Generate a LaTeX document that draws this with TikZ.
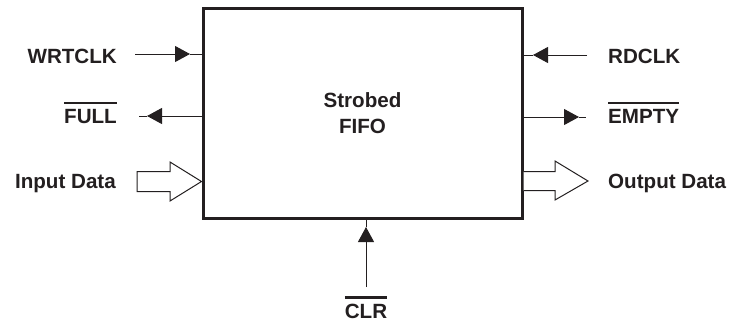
\documentclass[tikz,border=0pt]{standalone}
\usepackage{fontspec}
\setmainfont{Liberation Sans}
\usetikzlibrary{arrows.meta}
\definecolor{ink}{HTML}{231F20}
\newcommand\ovl[1]{\vbox{\hrule height 2.5pt\kern 5pt\hbox{#1}}}
\begin{document}
\begin{tikzpicture}[x=1pt,y=-1pt,
  lbl/.style={inner sep=0pt, text=ink, font=\fontsize{20.6}{26}\selectfont\bfseries},
  wire/.style={draw=ink, line width=1pt},
  sig/.style={wire, -{Triangle[length=15pt,width=16pt]}},
  hollow/.style={draw=ink, line width=1pt, fill=white, line join=miter}]
\useasboundingbox (0,0) rectangle (730,322);
% main box
\node[draw=ink, line width=3pt, minimum width=319pt, minimum height=210pt, inner sep=0pt,
      lbl, align=center] (fifo) at (362.5,113) {Strobed\\FIFO};
% labels
\node[lbl, anchor=base east] (wrt) at (117,63.5) {WRTCLK};
\node[lbl, anchor=base east] (full) at (117,123.5) {\ovl{FULL}};
\node[lbl, anchor=base east] (ind) at (116,188.5) {Input Data};
\node[lbl, anchor=base west] (rd) at (608,63.5) {RDCLK};
\node[lbl, anchor=base west] (empty) at (608,123.5) {\ovl{EMPTY}};
\node[lbl, anchor=base west] (outd) at (608,188.5) {Output Data};
\node[lbl, anchor=base] (clr) at (366,318) {\ovl{CLR}};
% free ends and tips
\coordinate (wrtA) at (135,54);   \coordinate (wrtT) at (190,54);
\coordinate (fullA) at (139,116); \coordinate (fullT) at (147,116);
\coordinate (rdA) at (587,55);    \coordinate (rdT) at (533,55);
\coordinate (emA) at (586,117);   \coordinate (emT) at (579,117);
\coordinate (clrA) at (366,287);  \coordinate (clrT) at (366,227);
% WRTCLK
\draw[sig] (wrtA) -- (wrtT);
\draw[wire] (wrtT) -- (fifo.west |- wrtT);
% FULL
\draw[sig] (fifo.west |- fullT) -- (fullT);
\draw[wire] (fullT) -- (fullA);
% RDCLK
\draw[sig] (rdA) -- (rdT);
\draw[wire] (rdT) -- (fifo.east |- rdT);
% EMPTY
\draw[sig] (fifo.east |- emT) -- (emT);
\draw[wire] (emT) -- (emA);
% CLR
\draw[sig] (clrA) -- (clrT);
\draw[wire] (clrT) -- (fifo.south -| clrT);
% Input Data hollow arrow
\draw[hollow] (137,171.5) -- (170,171.5) -- (170,162) -- (fifo.west |- 0,181.5) -- (170,201) -- (170,191.5) -- (137,191.5) -- cycle;
% Output Data hollow arrow
\draw[hollow] (fifo.east |- 0,171.5) -- (555,171.5) -- (555,161) -- (588,181) -- (555,200) -- (555,190.5) -- (fifo.east |- 0,190.5);
\end{tikzpicture}
\end{document}
